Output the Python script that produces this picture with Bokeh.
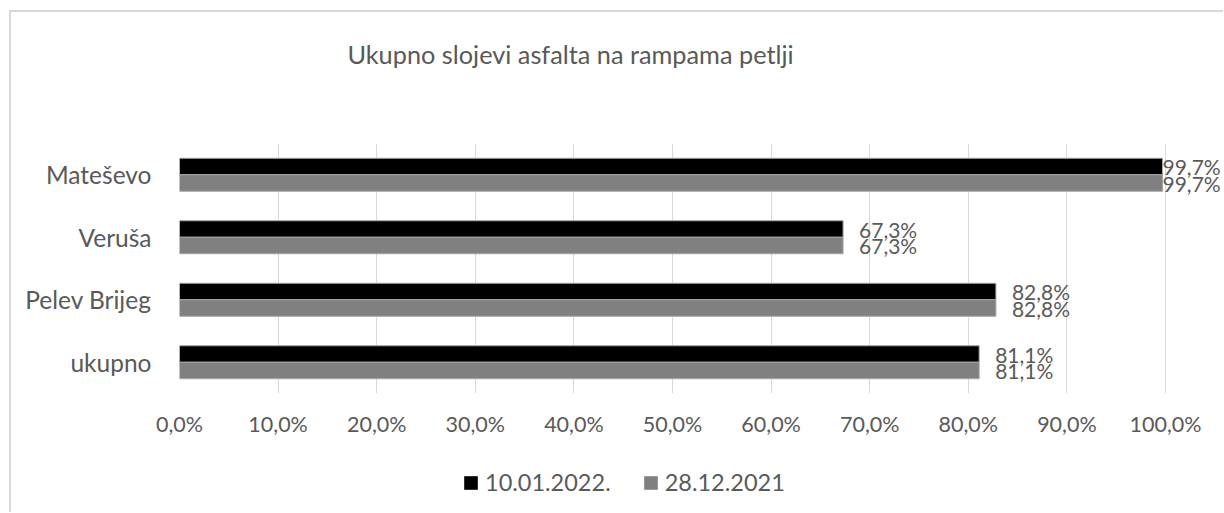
from bokeh.plotting import figure
from bokeh.models import (FactorRange, Range1d, FixedTicker, LabelSet, ColumnDataSource,
                          Legend, LegendItem, Label)
from bokeh.layouts import column
from bokeh.transform import dodge
from bokeh.core.properties import value
from bokeh.embed import file_html
from bokeh.resources import INLINE

# ---- data ----
categories = ["Mateševo", "Veruša", "Pelev Brijeg", "ukupno"]
series_names = ["10.01.2022.", "28.12.2021"]
values_2022 = [0.997, 0.673, 0.828, 0.811]
values_2021 = [0.997, 0.673, 0.828, 0.811]
tick_values = [0.0, 0.1, 0.2, 0.3, 0.4, 0.5, 0.6, 0.7, 0.8, 0.9, 1.0]
tick_labels = ["0,0%", "10,0%", "20,0%", "30,0%", "40,0%", "50,0%",
               "60,0%", "70,0%", "80,0%", "90,0%", "100,0%"]
title_text = "Ukupno slojevi asfalta na rampama petlji"

FONT = "Lato"
TXT = "#595959"
C1, C2 = "#000000", "#808080"
EDGE = "#a6a6a6"

def pct(v):
    return f"{v*100:.1f}".replace(".", ",") + "%"

# ---- geometry (px) ----
W = 1212
TITLE_H = 100
MAIN_H = 343
LEG_H = 57
FL, FT, FB = 168, 31, 62          # main figure borders (frames of the column are aligned)
PX_PER_UNIT = 986.0
FRAME_W = W - FL
CHART_RIGHT = FRAME_W - 1
LABEL_W = 60

def label_off(v):
    # data labels sit 16px right of the bar end, pushed back inside the chart area if needed
    return min(16, CHART_RIGHT - LABEL_W - v * PX_PER_UNIT)

src = ColumnDataSource(dict(
    cat=categories,
    v1=values_2022,
    v2=values_2021,
    l1=[pct(v) for v in values_2022],
    l2=[pct(v) for v in values_2021],
    o1=[label_off(v) for v in values_2022],
    o2=[label_off(v) for v in values_2021],
))

def blank_fig(h):
    f = figure(width=W, height=h, output_backend="svg", toolbar_location=None,
               x_range=Range1d(FL, W), y_range=Range1d(0, h),
               x_axis_location=None, y_axis_location=None,
               min_border=0, min_border_left=0, min_border_right=0,
               min_border_top=0, min_border_bottom=0)
    f.grid.visible = False
    f.outline_line_color = None
    f.background_fill_color = "white"
    f.border_fill_color = "white"
    return f

# ---- title strip ----
ft = blank_fig(TITLE_H)
ft.add_layout(Label(x=559, y=TITLE_H - 41, text=title_text, text_align="center",
                    text_baseline="alphabetic", text_font=FONT, text_font_size="25.3px",
                    text_color=TXT))

# ---- main chart ----
p = figure(width=W, height=MAIN_H, output_backend="svg", toolbar_location=None,
           y_range=FactorRange(factors=list(reversed(categories))),
           x_range=Range1d(0, FRAME_W / PX_PER_UNIT),
           min_border_left=FL, min_border_right=0, min_border_top=FT,
           min_border_bottom=FB)
p.outline_line_color = None
p.background_fill_color = "white"
p.border_fill_color = "white"

OFF = 0.132
BH = 0.264
r1 = p.hbar(y=dodge("cat", OFF, range=p.y_range), right="v1", left=0, height=BH, source=src,
            fill_color=C1, line_color=EDGE, line_width=1)
r2 = p.hbar(y=dodge("cat", -OFF, range=p.y_range), right="v2", left=0, height=BH, source=src,
            fill_color=C2, line_color=EDGE, line_width=1)

for fld, xs, of, off in (("l1", "v1", "o1", OFF), ("l2", "v2", "o2", -OFF)):
    ls = LabelSet(x=xs, y=dodge("cat", off, range=p.y_range), text=fld, source=src,
                  x_offset=of, y_offset=0, text_baseline="middle", text_align="left",
                  text_font=value(FONT), text_font_size=value("21px"), text_color=TXT)
    p.add_layout(ls)

p.xaxis.ticker = FixedTicker(ticks=tick_values)
p.xaxis.major_label_overrides = {t: l for t, l in zip(tick_values, tick_labels)}
p.xaxis.axis_line_color = None
p.xaxis.major_tick_line_color = None
p.xaxis.minor_tick_line_color = None
p.xaxis.major_tick_out = 0
p.xaxis.minor_tick_out = 0
p.xaxis.major_label_text_font = FONT
p.xaxis.major_label_text_font_size = "21.5px"
p.xaxis.major_label_text_color = TXT
p.xaxis.major_label_standoff = 17

p.yaxis.axis_line_color = None
p.yaxis.major_tick_line_color = None
p.yaxis.minor_tick_line_color = None
p.yaxis.major_tick_out = 0
p.yaxis.minor_tick_out = 0
p.yaxis.major_label_text_font = FONT
p.yaxis.major_label_text_font_size = "24.5px"
p.yaxis.major_label_text_color = TXT
p.yaxis.major_label_standoff = 28

p.xgrid.grid_line_color = "#d9d9d9"
p.xgrid.grid_line_width = 1
p.ygrid.grid_line_color = None

# ---- legend strip (hidden proxies of the two series supply the legend swatches) ----
fl = blank_fig(LEG_H)
k1 = fl.hbar(y=0, right="v1", left=0, height=1, source=src,
             fill_color=C1, line_color=None, visible=False)
k2 = fl.hbar(y=0, right="v2", left=0, height=1, source=src,
             fill_color=C2, line_color=None, visible=False)
legend = Legend(items=[LegendItem(label=series_names[0], renderers=[k1]),
                       LegendItem(label=series_names[1], renderers=[k2])],
                orientation="horizontal", location=(283, 16),
                glyph_width=17, glyph_height=17, label_standoff=6, spacing=31,
                padding=0, margin=0, border_line_color=None, background_fill_alpha=0,
                inactive_fill_alpha=0,
                label_text_font=FONT, label_text_font_size="23.5px", label_text_color=TXT)
fl.add_layout(legend)

layout = column(ft, p, fl, spacing=0)
layout.margin = (10, 0, 0, 9)
layout.styles = {"border-top": "2px solid #d9d9d9", "border-left": "2px solid #d9d9d9"}

open("out.html", "w").write(file_html(layout, INLINE))
